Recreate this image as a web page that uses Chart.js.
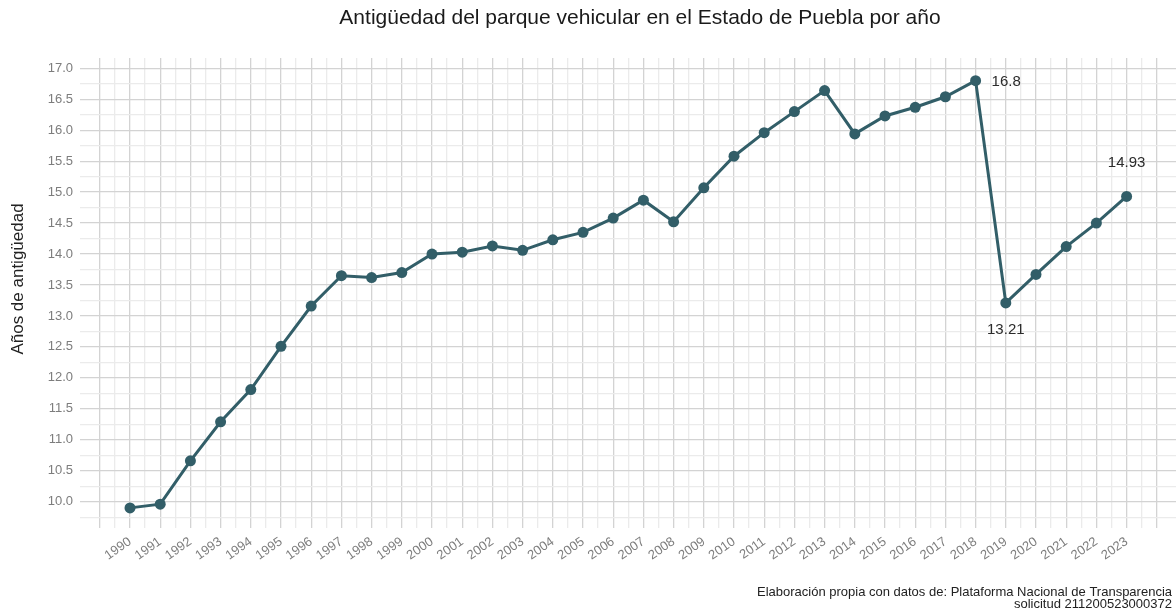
<!DOCTYPE html>
<html lang="es">
<head>
<meta charset="utf-8">
<title>Antigüedad del parque vehicular</title>
<script src="https://cdn.jsdelivr.net/npm/chart.js@4.4.1/dist/chart.umd.min.js"></script>
<style>
    html, body { margin: 0; padding: 0; background: #ffffff; }
    #wrap { width: 1176px; height: 611px; position: relative; }
</style>
</head>
<body>
<div id="wrap"><canvas id="antiguedadChart"></canvas></div>
<script>
// ==========================================
// DATOS
// ==========================================

const years = [
    1990, 1991, 1992, 1993, 1994, 1995, 1996, 1997, 1998, 1999,
    2000, 2001, 2002, 2003, 2004, 2005, 2006, 2007, 2008, 2009,
    2010, 2011, 2012, 2013, 2014, 2015, 2016, 2017, 2018, 2019,
    2020, 2021, 2022, 2023
];

const antiguedad = [
    9.90, 9.96, 10.66, 11.29, 11.81, 12.51, 13.16, 13.65, 13.62, 13.70,
    14.00, 14.03, 14.13, 14.06, 14.23, 14.35, 14.58, 14.87, 14.52, 15.07,
    15.58, 15.96, 16.30, 16.64, 15.94, 16.23, 16.37, 16.54, 16.8, 13.21,
    13.67, 14.12, 14.50, 14.93
];

// años con etiqueta de valor
const labeledYears = [2018, 2019, 2023];

const yTickLabels = [10.0, 10.5, 11.0, 11.5, 12.0, 12.5, 13.0, 13.5, 14.0, 14.5, 15.0, 15.5, 16.0, 16.5, 17.0];

const chartTitle = "Antigüedad del parque vehicular en el Estado de Puebla por año";
const yTitle = "Años de antigüedad";
const captionLines = [
    "Elaboración propia con datos de: Plataforma Nacional de Transparencia",
    "solicitud 211200523000372"
];

// ==========================================
// ESTILOS
// ==========================================

const FONT = "'Liberation Sans', Arial, sans-serif";
const LINE_COLOR = "#325E68";
const GRID_MAJOR = "#d3d3d3";
const GRID_MINOR = "#ebebeb";
const TICK_COLOR = "#7d7d7d";

// lineas de cuadricula: mayores en cada año / 0.5, menores a la mitad
const xGrid = [];
for (let v = years[0] - 1; v <= years[years.length - 1] + 1; v += 0.5) xGrid.push(v);

const yGrid = [];
yTickLabels.forEach(function (v) {
    yGrid.push(v - 0.25);
    yGrid.push(v);
});

// ==========================================
// TEXTOS (titulo, eje, fuente, etiquetas)
// ==========================================

const textPlugin = {
    id: "textos",
    afterDraw: function (chart) {
        const ctx = chart.ctx;
        const xs = chart.scales.x;
        const ys = chart.scales.y;

        ctx.save();
        ctx.fillStyle = "#1a1a1a";
        ctx.textBaseline = "middle";

        // titulo
        ctx.font = "21px " + FONT;
        ctx.textAlign = "center";
        ctx.fillText(chartTitle, 640, 18);

        // titulo eje y
        ctx.save();
        ctx.translate(18, 279);
        ctx.rotate(-Math.PI / 2);
        ctx.font = "17px " + FONT;
        ctx.fillStyle = "#222222";
        ctx.fillText(yTitle, 0, 0);
        ctx.restore();

        // fuente
        ctx.font = "13px " + FONT;
        ctx.textAlign = "right";
        ctx.fillStyle = "#222222";
        ctx.fillText(captionLines[0], 1172, 592);
        ctx.fillText(captionLines[1], 1172, 604);

        // etiquetas de valor
        ctx.font = "15px " + FONT;
        ctx.fillStyle = "#2b2b2b";
        labeledYears.forEach(function (yr, i) {
            const idx = years.indexOf(yr);
            const val = antiguedad[idx];
            const px = xs.getPixelForValue(yr);
            const py = ys.getPixelForValue(val);
            const txt = String(val);
            if (i === 0) {
                ctx.textAlign = "left";
                ctx.fillText(txt, px + 16, py + 1);
            } else if (i === 1) {
                ctx.textAlign = "center";
                ctx.fillText(txt, px, py + 27);
            } else {
                ctx.textAlign = "center";
                ctx.fillText(txt, px, py - 34);
            }
        });

        ctx.restore();
    }
};

// ==========================================
// GRAFICA
// ==========================================

const canvas = document.getElementById("antiguedadChart");

new Chart(canvas, {
    type: "line",
    data: {
        datasets: [
            {
                data: years.map(function (yr, i) { return { x: yr, y: antiguedad[i] }; }),
                borderColor: LINE_COLOR,
                backgroundColor: LINE_COLOR,
                borderWidth: 3,
                pointRadius: 5.5,
                pointBackgroundColor: LINE_COLOR,
                pointBorderWidth: 0,
                tension: 0,
                fill: false
            }
        ]
    },
    options: {
        responsive: true,
        maintainAspectRatio: false,
        animation: false,
        layout: {
            autoPadding: false,
            padding: { top: 58, left: 0, right: 0, bottom: 0 }
        },
        plugins: {
            legend: { display: false },
            tooltip: { enabled: false },
            title: { display: false }
        },
        scales: {
            x: {
                type: "linear",
                min: 1988.344,
                max: 2024.636,
                afterBuildTicks: function (axis) {
                    axis.ticks = xGrid.map(function (v) { return { value: v }; });
                },
                afterFit: function (axis) {
                    axis.height = 83;
                    axis.paddingLeft = 0;
                    axis.paddingRight = 0;
                },
                border: { display: false },
                grid: {
                    drawTicks: false,
                    lineWidth: 1.3,
                    color: function (c) {
                        return Number.isInteger(c.tick.value) ? GRID_MAJOR : GRID_MINOR;
                    }
                },
                ticks: {
                    autoSkip: false,
                    minRotation: 35,
                    maxRotation: 35,
                    padding: 6,
                    color: TICK_COLOR,
                    font: { family: FONT, size: 13 },
                    callback: function (value) {
                        if (Number.isInteger(value) && years.includes(value)) return String(value);
                        return "";
                    }
                }
            },
            y: {
                type: "linear",
                min: 9.575,
                max: 17.166,
                afterBuildTicks: function (axis) {
                    axis.ticks = yGrid.map(function (v) { return { value: v }; });
                },
                afterFit: function (axis) {
                    axis.width = 80;
                },
                border: { display: false },
                grid: {
                    drawTicks: false,
                    lineWidth: 1.3,
                    color: function (c) {
                        return yTickLabels.includes(c.tick.value) ? GRID_MAJOR : GRID_MINOR;
                    }
                },
                ticks: {
                    autoSkip: false,
                    padding: 7,
                    color: TICK_COLOR,
                    font: { family: FONT, size: 13 },
                    callback: function (value) {
                        return yTickLabels.includes(value) ? value.toFixed(1) : "";
                    }
                }
            }
        }
    },
    plugins: [textPlugin]
});
</script>
</body>
</html>
